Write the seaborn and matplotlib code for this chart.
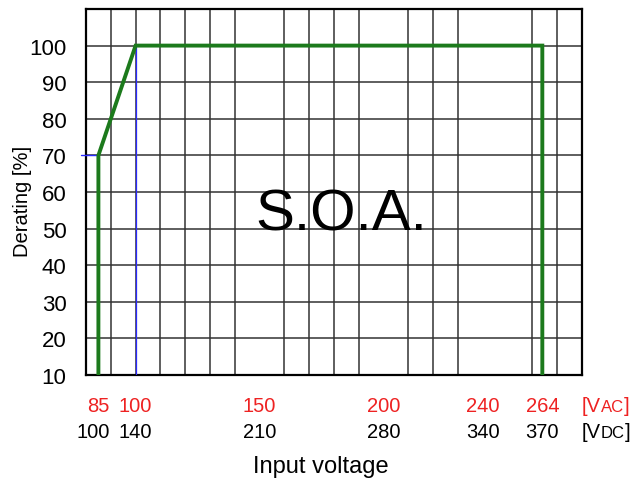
import numpy as np
import matplotlib
matplotlib.use("Agg")
import matplotlib.pyplot as plt
import seaborn as sns

# derating curve: input voltage [VAC] vs load [%]
soa_vac = [85, 85, 100, 264, 264]
soa_load = [10, 70, 100, 100, 10]

# two rows of x labels (VAC in red, matching VDC in black)
vac_pos = [85, 100, 150, 200, 240, 264]
vac_labels = ['85', '100', '150', '200', '240', '264']
vdc_pos = [83, 100, 150, 200, 240, 264]
vdc_labels = ['100', '140', '210', '280', '340', '370']
tick_marks = [80, 85, 150, 200, 240, 250, 264, 280]
y_labels = ['10', '20', '30', '40', '50', '60', '70', '80', '90', '100', '']

GREEN = '#1c7a1c'
BLUE = '#2a2aff'
RED = '#ee2222'

sns.set_style('white')
plt.rcParams['font.family'] = ['Liberation Sans', 'DejaVu Sans']
plt.rcParams['text.color'] = 'black'
plt.rcParams['xtick.color'] = 'black'
plt.rcParams['ytick.color'] = 'black'

fig = plt.figure(figsize=(6.41, 4.81), dpi=100)
ax = fig.add_axes([86 / 641, 1 - 376 / 481, (582 - 86) / 641, (376 - 10) / 481])
ax.set_xlim(80, 280)
ax.set_ylim(10, 110)

# grid every 10 units
ax.set_xticks(np.arange(80, 281, 10), minor=True)
ax.set_xticks(tick_marks)
ax.set_xticklabels([])
ax.set_yticks(np.arange(10, 111, 10))
ax.set_yticklabels(y_labels, fontsize=16, color='black')
ax.tick_params(axis='x', which='major', direction='out', length=4, width=1.4, color='black')
ax.tick_params(axis='x', which='minor', length=0)
ax.tick_params(axis='y', length=0, pad=14)
ax.grid(True, axis='x', which='minor', color='#333333', lw=1.1)
ax.grid(True, axis='y', which='major', color='#333333', lw=1.1)
ax.set_axisbelow(True)
for s in ax.spines.values():
    s.set_color('black')
    s.set_linewidth(1.6)

# blue guide lines
ax.plot([78, 85], [70, 70], color=BLUE, lw=1.0, clip_on=False, zorder=3)
ax.plot([100, 100], [10, 100], color=BLUE, lw=0.9, zorder=3)

sns.lineplot(x=soa_vac, y=soa_load, sort=False, estimator=None, color=GREEN,
             lw=2.8, ax=ax, zorder=4, solid_joinstyle='miter')
ax.set_xlabel('')
ax.set_ylabel('')

ax.text(182.8, 49.8, 'S.O.A.', fontsize=42, ha='center', va='baseline',
        color='black', zorder=5)

trans = ax.get_xaxis_transform()
y_red, y_blk = -0.0984, -0.1694
for x, lab in zip(vac_pos, vac_labels):
    ax.text(x, y_red, lab, transform=trans, ha='center', va='baseline', fontsize=14.5, color=RED)
for x, lab in zip(vdc_pos, vdc_labels):
    ax.text(x, y_blk, lab, transform=trans, ha='center', va='baseline', fontsize=14.5, color='black')

# unit tags with small caps
for yy, sub, col in [(y_red, 'AC', RED), (y_blk, 'DC', 'black')]:
    t1 = ax.text(1.0, yy, '[V', transform=ax.transAxes, ha='left', va='baseline',
                 fontsize=14.5, color=col)
    t2 = ax.annotate(sub, xy=(1, yy), xycoords=(t1, ax.transAxes), ha='left',
                     va='baseline', fontsize=12, color=col)
    ax.annotate(']', xy=(1, yy), xycoords=(t2, ax.transAxes), ha='left',
                va='baseline', fontsize=14.5, color=col)

fig.text(22.5 / 641, 1 - 201 / 481, 'Derating [%]', rotation=90, ha='center',
         va='center', fontsize=14.5, color='black')
fig.text(321 / 641, 1 - 467 / 481, 'Input voltage', ha='center', va='center',
         fontsize=17, color='black')

fig.savefig('out.png', dpi=100)
